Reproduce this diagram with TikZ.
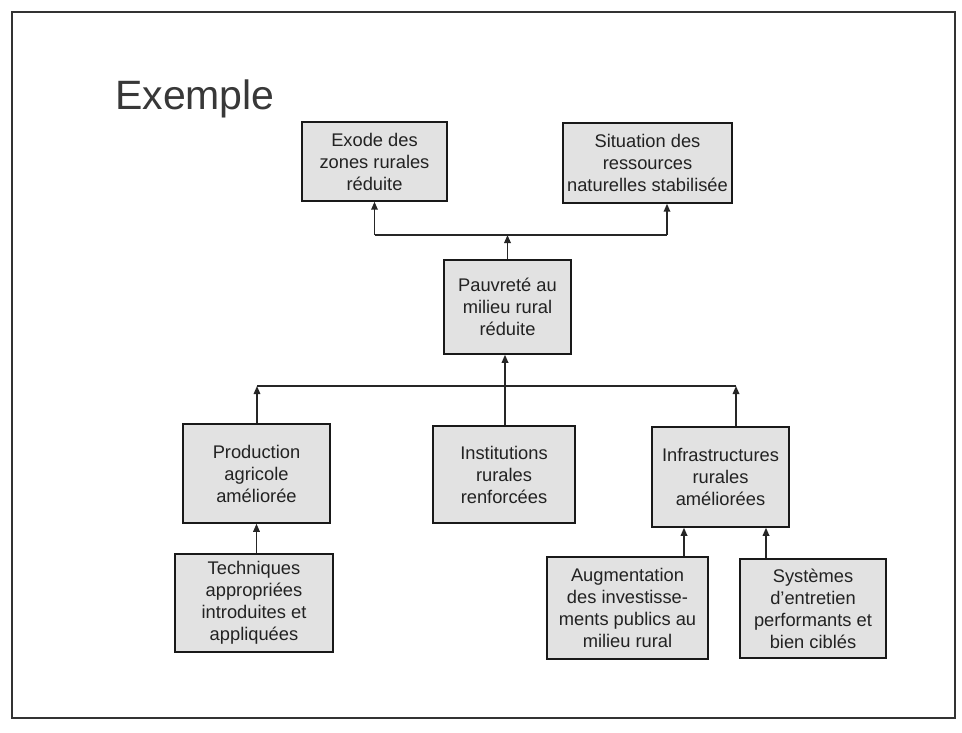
\documentclass[tikz,border=0pt]{standalone}
\usepackage{fontspec}
\setmainfont{Liberation Sans}
\usetikzlibrary{arrows.meta}
\definecolor{txt}{HTML}{222222}
\definecolor{boxfill}{HTML}{E2E2E2}
\begin{document}
\begin{tikzpicture}[x=1pt,y=-1pt,
  box/.style={draw=black!90, line width=1.5pt, fill=boxfill, inner sep=0pt, align=center,
    font=\fontsize{18.3}{22}\selectfont, text=txt},
  conn/.style={line width=1.6pt, draw=black!85},
  arr/.style={conn, -{Triangle[length=8pt,width=6.5pt]}}]
\useasboundingbox (0,0) rectangle (962,733);
\fill[white] (0,0) rectangle (962,733);
\draw[line width=1.4pt, draw=black!80] (12,12) rectangle (955,718);
\node[anchor=base west, inner sep=0pt, font=\fontsize{41}{48}\selectfont, text=black!78] (title) at (115,110) {Exemple};
% boxes
\node[box, minimum width=145pt, minimum height=79pt] (exode) at (374.5,161.5) {Exode des\\zones rurales\\réduite};
\node[box, minimum width=169pt, minimum height=80pt] (sit) at (647.5,163) {Situation des\\ressources\\naturelles stabilisée};
\node[box, minimum width=127pt, minimum height=94pt] (pauv) at (507.5,307) {Pauvreté au\\milieu rural\\réduite};
\node[box, minimum width=147pt, minimum height=99pt] (prod) at (256.5,473.5) {Production\\agricole\\améliorée};
\node[box, minimum width=142pt, minimum height=97pt] (inst) at (504,474.5) {Institutions\\rurales\\renforcées};
\node[box, minimum width=137pt, minimum height=100pt] (infra) at (720.5,477) {Infrastructures\\rurales\\améliorées};
\node[box, minimum width=158pt, minimum height=98pt] (tech) at (254,603) {Techniques\\appropriées\\introduites et\\appliquées};
\node[box, minimum width=161pt, minimum height=102pt] (augm) at (627.5,608) {Augmentation\\des investisse-\\ments publics au\\milieu rural};
\node[box, minimum width=146pt, minimum height=99pt] (syst) at (813,608.5) {Systèmes\\d'entretien\\performants et\\bien ciblés};
% bus coordinates
\coordinate (topbus) at (507,235);
\coordinate (lowbus) at (505,386);
% upper connectors
\draw[arr] (pauv.north) -- (pauv.north |- topbus);
\draw[conn] (exode.south |- topbus) -- ([xshift=19.5pt]sit.south |- topbus);
\draw[arr] (exode.south |- topbus) -- (exode.south);
\draw[arr] ([xshift=19.5pt]sit.south |- topbus) -- ([xshift=19.5pt]sit.south);
% middle connectors
\draw[conn] ([xshift=0.5pt]prod.north |- lowbus) -- ([xshift=15.5pt]infra.north |- lowbus);
\draw[arr] ([xshift=0.5pt]prod.north) -- ([xshift=0.5pt]prod.north |- lowbus);
\draw[arr] ([xshift=15.5pt]infra.north) -- ([xshift=15.5pt]infra.north |- lowbus);
\draw[arr] ([xshift=1pt]inst.north) -- ([xshift=1pt]inst.north |- pauv.south);
% lower connectors
\draw[arr] ([xshift=2.5pt]tech.north) -- ([xshift=2.5pt]tech.north |- prod.south);
\draw[arr] ([xshift=56.5pt]augm.north) -- ([xshift=56.5pt]augm.north |- infra.south);
\draw[arr] ([xshift=-47pt]syst.north) -- ([xshift=-47pt]syst.north |- infra.south);
\end{tikzpicture}
\end{document}
